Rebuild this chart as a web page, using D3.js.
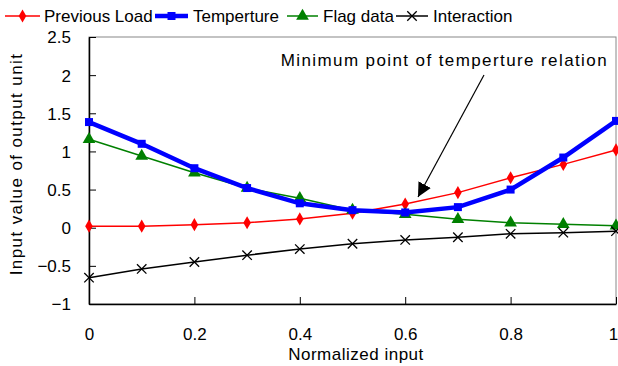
<!DOCTYPE html>
<html><head><meta charset="utf-8">
<script src="https://cdn.jsdelivr.net/npm/d3@7"></script>
<style>body{margin:0;background:#fff}svg{display:block}text{font-family:"Liberation Sans",Arial,sans-serif;fill:#000}</style>
</head><body><svg id="c" width="618" height="366"></svg>
<script>
const xValues = [0,0.1,0.2,0.3,0.4,0.5,0.6,0.7,0.8,0.9,1.0];
const previousLoad = [0.02,0.02,0.04,0.065,0.115,0.19,0.31,0.46,0.655,0.83,1.02];
const temperture = [1.385,1.10,0.78,0.52,0.32,0.23,0.20,0.27,0.50,0.92,1.40];
const flagData = [1.16,0.94,0.72,0.52,0.385,0.23,0.175,0.11,0.065,0.045,0.025];
const interaction = [-0.655,-0.54,-0.45,-0.36,-0.28,-0.21,-0.16,-0.125,-0.08,-0.065,-0.045];
const xTicks = [0,0.2,0.4,0.6,0.8,1];
const yTicks = [-1,-0.5,0,0.5,1,1.5,2,2.5];
const seriesNames = ["Previous Load","Temperture","Flag data","Interaction"];

const svg = d3.select("#c");
const L=89,R=616,T=37,B=304;
const x = d3.scaleLinear().domain([0,1]).range([L,R]);
const y = d3.scaleLinear().domain([-1,2.5]).range([B,T]);

svg.append("rect").attr("x",L).attr("y",T).attr("width",R-L).attr("height",B-T)
  .attr("fill","none").attr("stroke","#888").attr("stroke-width",1);

const fmt = d => d<0 ? "\u2212"+Math.abs(d) : String(d);
const yAxis = svg.append("g").attr("transform",`translate(${L},0)`)
  .call(d3.axisLeft(y).tickValues(yTicks).tickSizeInner(-7).tickSizeOuter(0).tickPadding(18).tickFormat(fmt));
const xAxis = svg.append("g").attr("transform",`translate(0,${B})`)
  .call(d3.axisBottom(x).tickValues(xTicks).tickSizeInner(-7).tickSizeOuter(0).tickPadding(24).tickFormat(d=>String(d)));
[yAxis,xAxis].forEach(a=>{
  a.select(".domain").attr("stroke","#000").attr("stroke-width",1.5);
  a.selectAll(".tick line").attr("stroke","#000");
  a.selectAll("text").style("font-size","17px").attr("fill","#000");
});
yAxis.selectAll("text").attr("dy","0.35em");
xAxis.selectAll(".tick text").filter(d=>d===1).attr("dx","-3");

svg.append("text").attr("x",356).attr("y",360).attr("text-anchor","middle").style("font-size","17px").style("letter-spacing","0.5px").text("Normalized input");
svg.append("text").attr("transform","translate(22,164) rotate(-90)").attr("text-anchor","middle").style("font-size","17px").style("letter-spacing","1.4px").text("Input value of output unit");

const line = vals => d3.line().x((d,i)=>x(xValues[i])).y(d=>y(d))(vals);
const sym = {
  diamond: d3.symbol().type(d3.symbolDiamond).size(50),
  square: d3.symbol().type(d3.symbolSquare).size(64),
  triangle: d3.symbol().type(d3.symbolTriangle).size(70),
  cross: d3.symbol().type(d3.symbolTimes).size(60)
};
const series = [
  {name:seriesNames[0], vals:previousLoad, color:"#ff0000", w:1.5, s:"diamond"},
  {name:seriesNames[2], vals:flagData, color:"#008000", w:1.5, s:"triangle"},
  {name:seriesNames[3], vals:interaction, color:"#000000", w:1.5, s:"cross"},
  {name:seriesNames[1], vals:temperture, color:"#0000ff", w:4.5, s:"square"}
];
series.forEach(sr=>{
  svg.append("path").attr("d",line(sr.vals)).attr("fill","none").attr("stroke",sr.color).attr("stroke-width",sr.w);
  svg.selectAll(null).data(sr.vals).enter().append("path")
    .attr("d",sym[sr.s]).attr("transform",(d,i)=>`translate(${x(xValues[i])},${y(d)})`)
    .attr("fill",sr.s==="cross"?"none":sr.color).attr("stroke",sr.color).attr("stroke-width",sr.s==="cross"?1.3:0);
});

svg.append("defs").append("marker").attr("id","ah").attr("viewBox","0 0 10 10").attr("refX",10).attr("refY",5)
  .attr("markerWidth",14).attr("markerHeight",14).attr("markerUnits","userSpaceOnUse").attr("orient","auto")
  .append("path").attr("d","M0,0 L10,5 L0,10 z").attr("fill","#000");
svg.append("line").attr("x1",484).attr("y1",75).attr("x2",418).attr("y2",197).attr("stroke","#000").attr("stroke-width",1.2).attr("marker-end","url(#ah)");
svg.append("text").attr("x",608).attr("y",66).attr("text-anchor","end").style("font-size","17px").style("letter-spacing","1.4px").text("Minimum point of temperture relation");

const leg = [
  {name:seriesNames[0], color:"#ff0000", w:1.5, s:"diamond", x0:5, x1:40, tx:44},
  {name:seriesNames[1], color:"#0000ff", w:4.5, s:"square", x0:155, x1:188, tx:193},
  {name:seriesNames[2], color:"#008000", w:1.5, s:"triangle", x0:287, x1:318, tx:323},
  {name:seriesNames[3], color:"#000000", w:1.5, s:"cross", x0:396, x1:428, tx:433}
];
leg.forEach(l=>{
  const ly=16;
  svg.append("line").attr("x1",l.x0).attr("x2",l.x1).attr("y1",ly).attr("y2",ly).attr("stroke",l.color).attr("stroke-width",l.w);
  svg.append("path").attr("d",sym[l.s]).attr("transform",`translate(${(l.x0+l.x1)/2},${ly})`)
    .attr("fill",l.s==="cross"?"none":l.color).attr("stroke",l.color).attr("stroke-width",l.s==="cross"?1.3:0);
  svg.append("text").attr("x",l.tx).attr("y",ly).attr("dy","0.35em").style("font-size","17px").text(l.name);
});
</script></body></html>
